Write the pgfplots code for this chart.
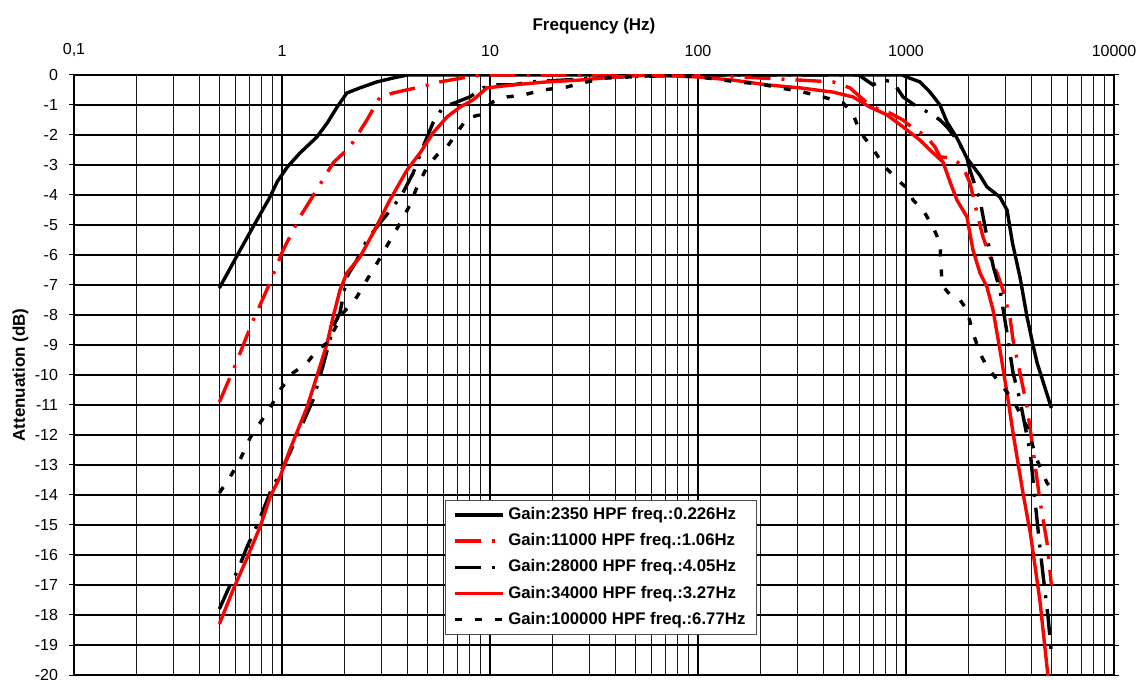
\documentclass[border=0pt]{standalone}
\usepackage{fontspec}
\setmainfont{Liberation Sans}
\setsansfont{Liberation Sans}
\usepackage{pgfplots}
\pgfplotsset{compat=1.18}
\definecolor{xlred}{HTML}{FF0000}

\begin{document}
\begin{tikzpicture}
% page = 1138 x 679 px at 0.5pt per px, axis box from (74,75) to (1114,675)
\useasboundingbox (-37pt,-2pt) rectangle (532pt,337.5pt);
\begin{axis}[
  at={(0,0)}, anchor=south west,
  scale only axis, width=520pt, height=300pt,
  xmode=log, xmin=0.1, xmax=10000, ymin=-20, ymax=0,
  xtick={0.1,1,10,100,1000,10000},
  xticklabels={{0,1},1,10,100,1000,10000},
  minor xtick={0.2,0.3,0.4,0.5,0.6,0.7,0.8,0.9,2,3,4,5,6,7,8,9,20,30,40,50,60,70,80,90,200,300,400,500,600,700,800,900,2000,3000,4000,5000,6000,7000,8000,9000},
  xticklabel pos=upper,
  ytick={-20,-19,...,0},
  xmajorgrids, xminorgrids, ymajorgrids,
  major grid style={black, line width=0.6pt},
  minor grid style={black!90, line width=0.6pt},
  axis line style={black, line width=0.6pt},
  tick align=outside, major tick length=2.5pt, minor tick length=0pt,
  xtick style={draw=none}, ytick style={black, line width=0.5pt},
  tick label style={font=\fontsize{8}{9.6}\selectfont},
  /pgf/number format/assume math mode=true,
  yticklabel style={xshift=-2pt},
  xticklabel style={yshift=3pt},
  label style={font=\bfseries\fontsize{8.5}{10}\selectfont},
  xlabel={Frequency (Hz)}, ylabel={Attenuation (dB)},
  xlabel style={at={(axis description cs:0.5,1.082)}, anchor=center},
  ylabel style={at={(axis description cs:-0.0515,0.5)}, anchor=center},
  legend style={at={(0.357,0.067)}, anchor=south west, draw=black!70, line width=0.6pt,
    fill=white, font=\bfseries\fontsize{8.4}{10}\selectfont, inner xsep=3.5pt, inner ysep=1.5pt,
    row sep=1.5pt},
  legend cell align=left,
  legend image code/.code={\draw[#1] (0pt,0pt) -- (24pt,0pt);},
  every axis plot/.append style={line width=1.7pt},
]
% Gain 2350, HPF 0.226 Hz
\addplot[black] coordinates {
 (0.5,-7.1) (0.63,-5.83) (0.725,-5.07) (0.875,-4.07) (0.95,-3.55) (1.06,-3.07)
 (1.22,-2.6) (1.47,-2.07) (1.65,-1.6) (1.84,-1.07) (2.05,-0.6) (2.37,-0.43)
 (2.86,-0.23) (3.42,-0.1) (4,0) (10,0) (100,0) (960,0) (1010,-0.07) (1167,-0.23)
 (1304,-0.57) (1457,-1.0) (1574,-1.57) (1758,-2.1) (1963,-2.77) (2268,-3.35)
 (2450,-3.73) (2830,-4.07) (3060,-4.5) (3250,-5.6) (3530,-6.73) (3820,-8.07)
 (4100,-9.07) (4270,-9.6) (5000,-11.1)};
\addlegendentry{Gain:2350 HPF freq.:0.226Hz}
% Gain 11000, HPF 1.06 Hz
\addplot[xlred, dash pattern=on 13pt off 5.5pt on 1.5pt off 5.5pt] coordinates {
 (0.5,-10.9) (0.594,-9.7) (0.717,-8.27) (0.857,-7.07) (1.01,-5.85) (1.22,-4.73)
 (1.47,-3.83) (1.76,-2.93) (2.12,-2.4) (2.56,-1.5) (2.96,-0.73) (3.42,-0.6)
 (4.6,-0.4) (5.75,-0.23) (7.76,-0.07) (9,0) (100,0) (200,-0.1) (309,-0.17)
 (445,-0.23) (538,-0.43) (649,-0.93) (750,-1.17) (838,-1.27) (967,-1.5)
 (1105,-1.83) (1234,-2.0) (1378,-2.4) (1457,-2.73) (1689,-2.77) (1880,-3.07)
 (2030,-3.6) (2193,-4.6) (2345,-5.4) (2535,-6.07) (2740,-6.6) (2926,-7.17)
 (3160,-8.07) (3270,-8.83) (3530,-9.93) (3820,-11.07) (4100,-12.6) (4400,-14.17)
 (4765,-15.6) (5000,-17.0)};
\addlegendentry{Gain:11000 HPF freq.:1.06Hz}
% Gain 28000, HPF 4.05 Hz
\addplot[black, dash pattern=on 13pt off 5.5pt on 1.5pt off 5.5pt] coordinates {
 (0.5,-17.8) (0.563,-17.0) (0.614,-16.5) (0.679,-15.73) (0.767,-14.93) (0.876,-13.93)
 (0.978,-13.27) (1.09,-12.6) (1.26,-11.6) (1.41,-10.83) (1.57,-9.73) (1.70,-8.83)
 (1.76,-8.4) (1.90,-7.93) (2.05,-6.73) (2.29,-6.17) (2.56,-5.5) (2.96,-4.93)
 (3.42,-4.4) (3.81,-3.93) (4.27,-3.27) (4.76,-2.4) (5.32,-1.6) (5.95,-1.07)
 (6.94,-0.9) (8.0,-0.73) (9.24,-0.43) (10.8,-0.33) (12.9,-0.33) (15.6,-0.23)
 (22.4,-0.17) (32.7,-0.1) (39,-0.07) (100,0) (590,0) (601,-0.03) (694,-0.33)
 (775,-0.17) (866,-0.23) (967,-0.73) (1135,-1.07) (1304,-1.27) (1457,-1.5)
 (1574,-1.73) (1689,-2.0) (1820,-2.33) (1963,-2.77) (2030,-3.17) (2268,-4.17)
 (2450,-5.4) (2630,-6.4) (2830,-7.17) (3060,-8.6) (3270,-9.93) (3530,-10.83)
 (3960,-12.6) (4100,-13.67) (4330,-15.27) (4570,-16.73) (4820,-18.07) (5000,-19.27)};
\addlegendentry{Gain:28000 HPF freq.:4.05Hz}
% Gain 34000, HPF 3.27 Hz
\addplot[xlred] coordinates {
 (0.5,-18.3) (0.581,-17.17) (0.679,-16.1) (0.784,-15.07) (0.876,-14.07) (0.978,-13.4)
 (1.09,-12.5) (1.32,-11.07) (1.52,-9.73) (1.65,-8.93) (1.76,-8.07) (1.90,-7.17)
 (2.05,-6.6) (2.37,-6.07) (2.74,-5.27) (3.30,-4.17) (3.99,-3.17) (4.61,-2.6)
 (5.32,-1.93) (6.21,-1.4) (7.17,-1.07) (8.29,-0.83) (9.67,-0.43) (12.9,-0.33)
 (18.8,-0.23) (27,-0.17) (39,-0.07) (60,0) (102,-0.07) (147,-0.17) (215,-0.33)
 (309,-0.43) (445,-0.57) (556,-0.73) (671,-1.07) (811,-1.33) (967,-1.73)
 (1167,-2.17) (1304,-2.5) (1506,-2.9) (1629,-3.57) (1758,-4.17) (1963,-4.73)
 (2098,-5.83) (2268,-6.6) (2450,-7.07) (2620,-7.83) (2830,-9.17) (3060,-10.6)
 (3270,-11.93) (3650,-13.93) (3960,-15.27) (4400,-17.5) (4820,-20.07)};
\addlegendentry{Gain:34000 HPF freq.:3.27Hz}
% Gain 100000, HPF 6.77 Hz
\addplot[black, dash pattern=on 3.5pt off 6.5pt] coordinates {
 (0.5,-13.93) (0.563,-13.4) (0.628,-12.83) (0.702,-12.1) (0.784,-11.6) (0.876,-11.1)
 (0.978,-10.5) (1.13,-9.93) (1.32,-9.6) (1.47,-9.17) (1.65,-8.93) (1.97,-7.93)
 (2.29,-7.4) (2.56,-6.83) (2.74,-6.5) (3.06,-5.93) (3.38,-5.4) (3.78,-4.83)
 (4.12,-4.33) (4.46,-3.73) (4.98,-3.07) (5.56,-2.67) (6.21,-2.4) (6.94,-1.93)
 (7.76,-1.43) (8.94,-1.33) (9.67,-1.07) (10.3,-0.9) (12.1,-0.73) (14.4,-0.67)
 (18,-0.5) (23.4,-0.4) (29.2,-0.23) (36.5,-0.1) (45.6,-0.07) (70,0) (102,-0.07)
 (154,-0.23) (199,-0.3) (248,-0.43) (320,-0.57) (399,-0.73) (498,-0.93) (556,-1.3)
 (601,-1.9) (671,-2.33) (726,-2.67) (775,-3.0) (866,-3.33) (936,-3.57) (1011,-3.77)
 (1082,-4.17) (1208,-4.5) (1349,-5.07) (1457,-5.6) (1490,-7.0) (1629,-7.33)
 (1820,-7.5) (1963,-7.83) (2098,-8.6) (2268,-9.27) (2450,-9.73) (2830,-10.27)
 (3270,-10.83) (3817,-11.73) (4265,-12.83) (4765,-13.6) (5000,-13.77)};
\addlegendentry{Gain:100000 HPF freq.:6.77Hz}
\end{axis}
\end{tikzpicture}
\end{document}
